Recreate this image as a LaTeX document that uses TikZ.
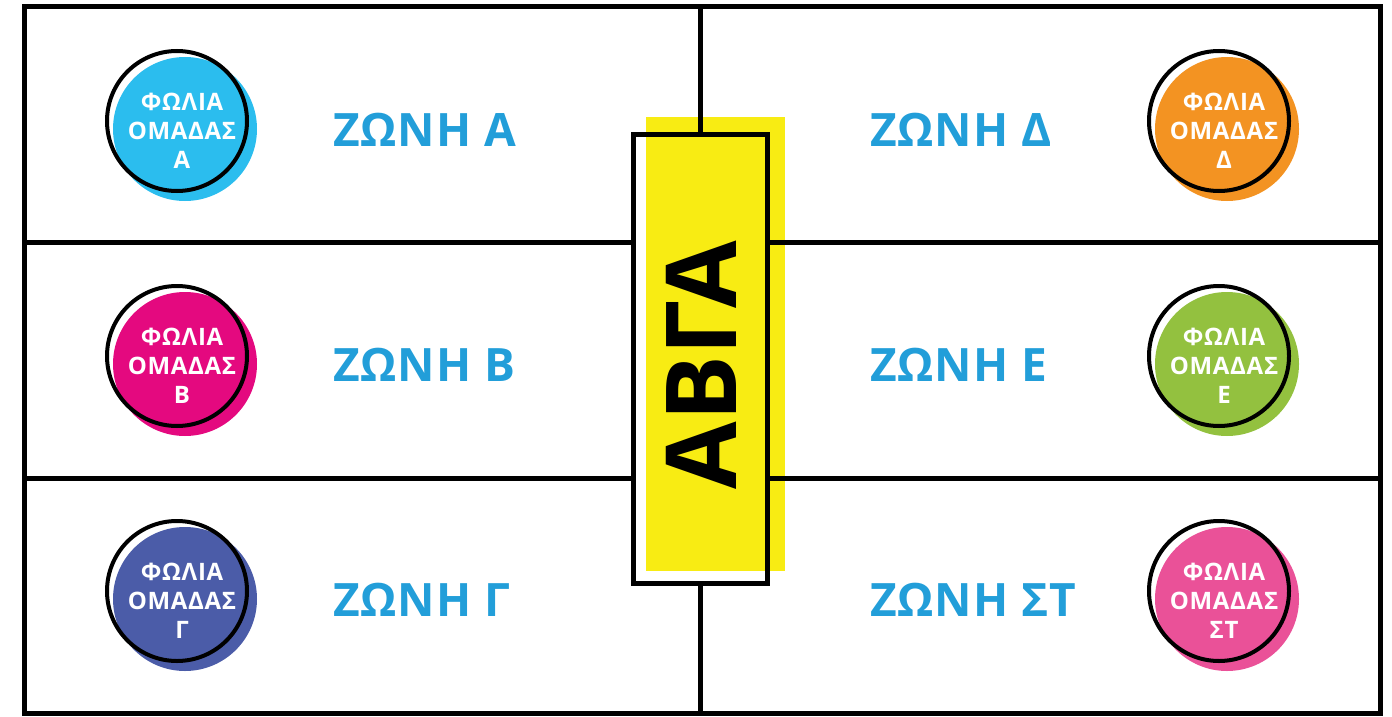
\documentclass[tikz,border=0pt]{standalone}
\usepackage{fontspec}
\setmainfont{Open Sans}
\newfontfamily\teamfont{Open Sans}[LetterSpace=3]
\newfontfamily\zonefont{Open Sans}[LetterSpace=2]
\definecolor{zoneblue}{RGB}{34,158,217}
\definecolor{cA}{RGB}{43,189,238}
\definecolor{cB}{RGB}{228,9,127}
\definecolor{cG}{RGB}{75,92,168}
\definecolor{cD}{RGB}{243,147,34}
\definecolor{cE}{RGB}{147,193,63}
\definecolor{cS}{RGB}{234,81,152}
\definecolor{avgayel}{RGB}{248,236,19}
\tikzset{
  frame/.style={line width=5pt, draw=black},
  zonelabel/.style={anchor=base west, text=zoneblue, font=\zonefont\bfseries\fontsize{46}{46}\selectfont, inner sep=0pt},
  teamtext/.style={align=center, text=white, font=\teamfont\bfseries\fontsize{24}{29}\selectfont, inner sep=0pt},
  ring/.style={draw=black, line width=4pt, circle, minimum size=140pt, inner sep=0pt},
  disc/.style={circle, minimum size=144pt, inner sep=0pt, draw=none},
}
\begin{document}
\begin{tikzpicture}[x=1pt,y=-1pt]
\useasboundingbox (0,0) rectangle (1392,717);
% outer frame and lines
\coordinate (tl) at (24.5,7);
\coordinate (br) at (1380,713);
\coordinate (vt) at (700.5,7);
\coordinate (vb) at (700.5,713);
\coordinate (l1) at (24.5,242);
\coordinate (r1) at (1380,242);
\coordinate (l2) at (24.5,478);
\coordinate (r2) at (1380,478);
\node[draw=none, fill=white, minimum width=133pt, minimum height=448pt, inner sep=0pt] (whitebox) at (700.5,359) {};
\node[fill=avgayel, minimum width=139pt, minimum height=454pt, inner sep=0pt] (yel) at (715.5,344) {};
\draw[frame] (vt) -- (whitebox.north);
\draw[frame] (whitebox.south) -- (vb);
\draw[frame] (l1) -- (whitebox.west |- l1);
\draw[frame] (whitebox.east |- r1) -- (r1);
\draw[frame] (l2) -- (whitebox.west |- l2);
\draw[frame] (whitebox.east |- r2) -- (r2);
\draw[frame] (tl) rectangle (br);
\draw[frame] (whitebox.north west) rectangle (whitebox.south east);
\node[rotate=90, font=\bfseries\fontsize{98}{98}\selectfont, inner sep=0pt] (avga) at (701,365) {ΑΒΓΑ};
% zone labels
\node[zonelabel] (zA) at (333,146) {ΖΩΝΗ Α};
\node[zonelabel] (zB) at (333,381) {ΖΩΝΗ Β};
\node[zonelabel] (zG) at (333,616) {ΖΩΝΗ Γ};
\node[zonelabel] (zD) at (870,146) {ΖΩΝΗ Δ};
\node[zonelabel] (zE) at (870,381) {ΖΩΝΗ Ε};
\node[zonelabel] (zS) at (870,616) {ΖΩΝΗ ΣΤ};
% team circles
\foreach \nm/\cx/\cy/\col/\lab in {A/177/121/cA/Α, B/177/356/cB/Β, G/177/591/cG/Γ, D/1219/121/cD/Δ, E/1219/356/cE/Ε, S/1219/591/cS/ΣΤ}{
  \node[disc, fill=\col] (d\nm) at (\cx+8,\cy+8) {};
  \node[ring] (r\nm) at (\cx,\cy) {};
  \node[teamtext] (t\nm) at (\cx+5,\cy+10) {ΦΩΛΙΑ\\ΟΜΑΔΑΣ\\\lab};
}
\end{tikzpicture}
\end{document}
